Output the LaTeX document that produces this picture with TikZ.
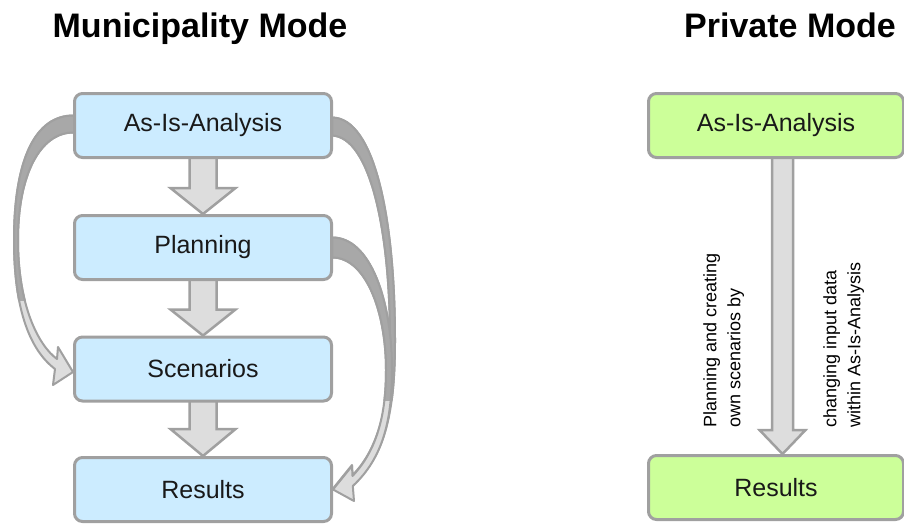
\documentclass[tikz,border=0pt]{standalone}
\usepackage{fontspec}
\setmainfont{Liberation Sans}
\usetikzlibrary{calc,backgrounds}
\definecolor{boxblue}{RGB}{204,236,255}
\definecolor{boxgreen}{RGB}{204,255,153}
\definecolor{edgegray}{RGB}{160,160,160}
\definecolor{arrfill}{RGB}{221,221,221}
\definecolor{banddark}{RGB}{168,168,168}
\newcommand{\blockarrow}[5]{%
\path[barrow] let \p1=(#1.south), \p2=(#2.north) in
 (\x1-#3,\y1+4pt) -- (\x1-#3,\y2+#5) -- (\x1-#4,\y2+#5) -- (\x1,\y2) -- (\x1+#4,\y2+#5) -- (\x1+#3,\y2+#5) -- (\x1+#3,\y1+4pt) -- cycle;}
\begin{document}
\begin{tikzpicture}[x=1pt,y=-1pt,
  box/.style={draw=edgegray, line width=3pt, rounded corners=8pt, minimum width=257pt, minimum height=64pt, inner sep=0pt, font=\fontsize{25}{30}\selectfont, text=black!90},
  bluebox/.style={box, fill=boxblue},
  greenbox/.style={box, fill=boxgreen, minimum width=255pt},
  titlefont/.style={font=\fontsize{34}{40}\selectfont\bfseries, inner sep=0pt, anchor=base},
  rottext/.style={rotate=90, anchor=north west, align=left, inner sep=0pt, font=\fontsize{18}{24}\selectfont},
  barrow/.style={fill=arrfill, draw=edgegray, line width=2.5pt, line join=miter},
  cband/.style={fill=arrfill, draw=edgegray, line width=2pt, line join=round},
  cdark/.style={fill=banddark, draw=edgegray, line width=2pt, line join=round}]
\useasboundingbox (0,0) rectangle (904,523);

\node[titlefont] (t1) at (200,37) {Municipality Mode};
\node[titlefont] (t2) at (790,37) {Private Mode};

\node[bluebox] (a1) at (203,125.5) {As-Is-Analysis};
\node[bluebox] (p) at (203,247.5) {Planning};
\node[bluebox] (s) at (203,369) {Scenarios};
\node[bluebox] (r) at (203,489.5) {Results};

\node[greenbox] (ga) at (776,125.5) {As-Is-Analysis};
\node[greenbox] (gr) at (776,487.5) {Results};

\node[rottext] (tx1) at (703,428) {Planning and creating\\own scenarios by};
\node[rottext] (tx2) at (823,428) {changing input data\\within As-Is-Analysis};

\def\pathL{($(a1.west)+(1,-10)$) .. controls (35,115) and (14,160) .. (14,240) .. controls (14,310) and (30,350) .. (55,369) -- (53,385) -- ($(s.west)+(0,3)$) -- (58,347) -- (57,359) .. controls (38,345) and (18,305) .. (18,240) .. controls (18,175) and (40,132) .. ($(a1.west)+(1,7)$) -- cycle}
\def\pathRa{($(a1.east)+(-1,-8)$) .. controls (375,118) and (395,220) .. (395,340) .. controls (395,410) and (386,455) .. (352.8,485) -- (353,500) -- ($(r.east)+(0,-1)$) -- (352,465) -- (352.5,475) .. controls (378,450) and (390,405) .. (390,340) .. controls (390,230) and (370,137) .. ($(a1.east)+(-1,10)$) -- cycle}
\def\pathRb{($(p.east)+(-1,-10)$) .. controls (370,237) and (392,300) .. (392,370) .. controls (392,420) and (383,458) .. (352.8,486) -- (354,501) -- ($(r.east)+(0,0)$) -- (352,466) -- (352.5,476) .. controls (377,450) and (386,415) .. (386,370) .. controls (386,310) and (365,257) .. ($(p.east)+(-1,10)$) -- cycle}

\begin{scope}[on background layer]
  \blockarrow{a1}{p}{13.5pt}{32.5pt}{26pt}
  \blockarrow{p}{s}{13.5pt}{32.5pt}{26pt}
  \blockarrow{s}{r}{13.5pt}{32.5pt}{27pt}
  \path[barrow] let \p1=(ga.south), \p2=(gr.north) in
    (\x1-4pt,\y1+4pt) -- (\x1-4pt,\y2+24pt) -- (\x1-16.5pt,\y2+24pt) -- (\x1+6.5pt,\y2) -- (\x1+29.5pt,\y2+24pt) -- (\x1+17pt,\y2+24pt) -- (\x1+17pt,\y1+4pt) -- cycle;

  \path[cband] \pathL;
  \begin{scope}
    \clip (0,80) rectangle (100,300);
    \path[cdark] \pathL;
  \end{scope}
  \path[cband] \pathRa;
  \path[cband] \pathRb;
  \begin{scope}
    \clip (330,80) rectangle (420,400);
    \path[cdark] \pathRa;
    \path[cdark] \pathRb;
  \end{scope}
\end{scope}
\end{tikzpicture}
\end{document}
